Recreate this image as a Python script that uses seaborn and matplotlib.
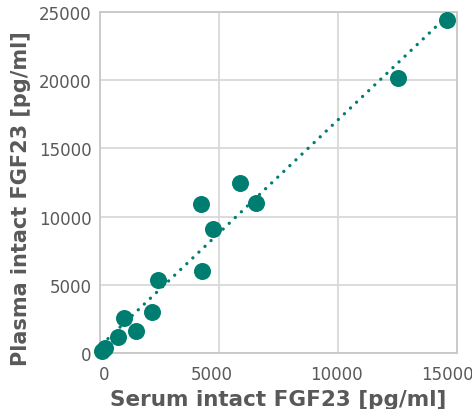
import matplotlib
matplotlib.use("Agg")
import matplotlib.pyplot as plt
import matplotlib.transforms as mtransforms
import seaborn as sns
import numpy as np
import pandas as pd

serum = [14600, 12500, 5900, 6550, 4250, 4750, 4300, 2450, 2200, 1000, 1500, 750, 200, 80]
plasma = [24400, 20150, 12450, 11000, 10950, 9100, 6000, 5350, 3000, 2600, 1600, 1150, 350, 150]
x_ticks = [0, 5000, 10000, 15000]
y_ticks = [0, 5000, 10000, 15000, 20000, 25000]

df = pd.DataFrame({"serum": serum, "plasma": plasma})

sns.set_theme(style="white")
plt.rcParams['font.family'] = ['DejaVu Sans']

color = "#007D71"
fig = plt.figure(figsize=(4.72, 4.10), dpi=100)
ax = fig.add_axes([100/472, 1-354/410, 357/472, 341/410])

sns.regplot(data=df, x="serum", y="plasma", ax=ax, ci=None, truncate=True,
            scatter_kws=dict(s=150, color=color, alpha=1, linewidths=0, clip_on=False, zorder=3),
            line_kws=dict(color=color, lw=2.4, linestyle=(0, (0.01, 2.5)), dash_capstyle='round', zorder=2))

ax.set_xlim(0, 15000)
ax.set_ylim(0, 25000)
ax.set_xticks(x_ticks)
ax.set_yticks(y_ticks)
ax.grid(True, color="#d9d9d9", lw=1.3)
ax.set_axisbelow(True)
for sp in ax.spines.values():
    sp.set_color("#c8c8c8")
    sp.set_linewidth(1.3)
ax.tick_params(axis='x', length=0, labelsize=12, labelcolor="#595959", pad=9)
ax.tick_params(axis='y', length=0, labelsize=12, labelcolor="#595959", pad=6)

# shift x tick labels horizontally like the reference (last one kept inside the figure)
x_shift_px = [4, -7, -2, -10]
for lab, dx in zip(ax.get_xticklabels(), x_shift_px):
    lab.set_transform(lab.get_transform() + mtransforms.ScaledTranslation(dx/100, 0, fig.dpi_scale_trans))

ax.set_xlabel("Serum intact FGF23 [pg/ml]", fontsize=15.5, fontweight='bold', color="#595959", labelpad=4)
ax.set_ylabel("Plasma intact FGF23 [pg/ml]", fontsize=15, fontweight='bold', color="#595959")
ax.yaxis.set_label_coords(-0.193, 0.457)

fig.savefig("out.png", dpi=100)
